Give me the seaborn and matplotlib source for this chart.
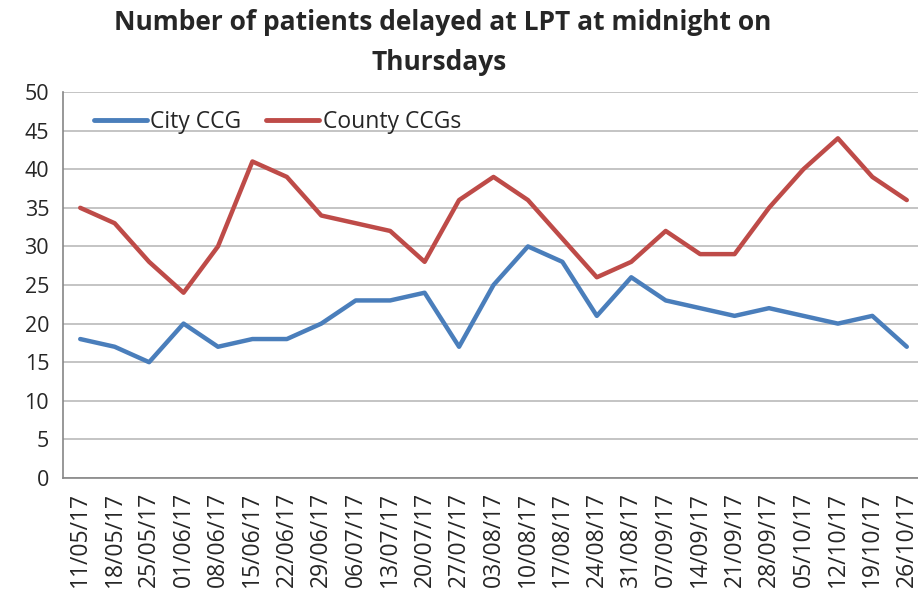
import numpy as np
import pandas as pd
import seaborn as sns
import matplotlib.pyplot as plt
from matplotlib.ticker import FixedLocator

dates = ["11/05/17", "18/05/17", "25/05/17", "01/06/17", "08/06/17", "15/06/17",
         "22/06/17", "29/06/17", "06/07/17", "13/07/17", "20/07/17", "27/07/17",
         "03/08/17", "10/08/17", "17/08/17", "24/08/17", "31/08/17", "07/09/17",
         "14/09/17", "21/09/17", "28/09/17", "05/10/17", "12/10/17", "19/10/17",
         "26/10/17"]
city_ccg = [18, 17, 15, 20, 17, 18, 18, 20, 23, 23, 24, 17, 25, 30, 28, 21, 26,
            23, 22, 21, 22, 21, 20, 21, 17]
county_ccgs = [35, 33, 28, 24, 30, 41, 39, 34, 33, 32, 28, 36, 39, 36, 31, 26, 28,
               32, 29, 29, 35, 40, 44, 39, 36]

df = pd.DataFrame({
    "Date": dates * 2,
    "Patients": city_ccg + county_ccgs,
    "Series": ["City CCG"] * len(dates) + ["County CCGs"] * len(dates),
})

sns.set_style("white")
plt.rcParams["font.family"] = ["Open Sans", "DejaVu Sans"]

fig = plt.figure(figsize=(9.18, 5.99), dpi=100)
ax = fig.add_axes([63 / 918, 1 - 478 / 599, 861 / 918, 386 / 599])

sns.lineplot(data=df, x="Date", y="Patients", hue="Series", sort=False,
             palette={"City CCG": "#4a7ebb", "County CCGs": "#be4b48"},
             linewidth=3.2, ax=ax)

ax.set_xlim(-0.5, len(dates) - 0.5)
ax.set_ylim(0, 50)
ax.set_yticks(range(0, 51, 5))
ax.set_xticks(range(len(dates)))
ax.set_xticklabels(dates, rotation=90, fontsize=16.5)
ax.xaxis.set_minor_locator(FixedLocator(np.arange(-0.5, len(dates), 1)))
ax.tick_params(axis="x", which="major", length=0, pad=10)
ax.tick_params(axis="x", which="minor", length=6, color="#868686", width=1)
ax.tick_params(axis="y", length=6, color="#868686", width=1, labelsize=15.5, pad=4)
ax.set_xlabel("")
ax.set_ylabel("")

ax.grid(axis="y", color="#bfbfbf", linewidth=1.3)
ax.set_axisbelow(True)
for s in ["top", "right"]:
    ax.spines[s].set_visible(False)
for s in ["left", "bottom"]:
    ax.spines[s].set_color("#868686")
    ax.spines[s].set_linewidth(1.2)

leg = ax.legend(loc="upper left", bbox_to_anchor=(0.012, 1.008), ncol=2, frameon=False,
                fontsize=16.5, handlelength=2.3, columnspacing=1.1, handletextpad=0.15)
for line in leg.get_lines():
    line.set_linewidth(3.5)

fig.text(0.482, 0.962, "Number of patients delayed at LPT at midnight on",
         ha="center", va="center", fontsize=19, fontweight="bold")
fig.text(0.478, 0.896, "Thursdays", ha="center", va="center",
         fontsize=19, fontweight="bold")

fig.savefig("out.png", dpi=100)
